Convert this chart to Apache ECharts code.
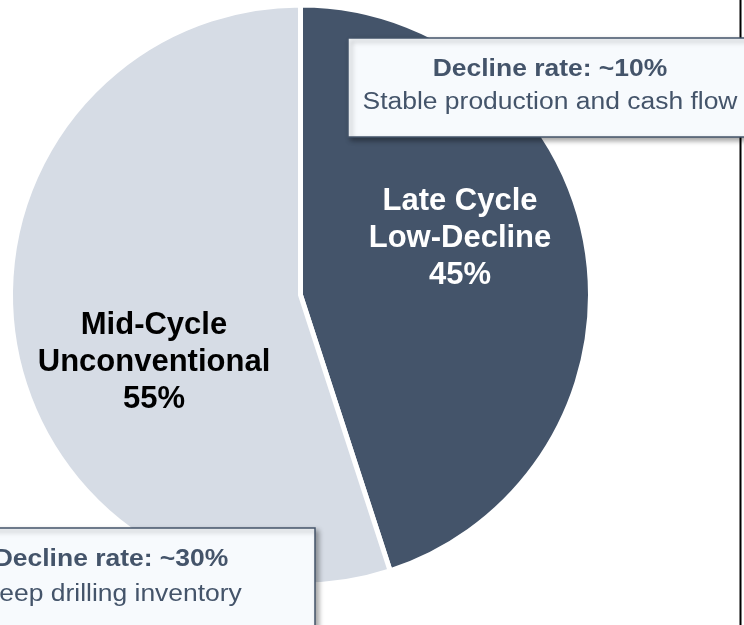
<!DOCTYPE html>
<html>
<head>
<meta charset="utf-8">
<script src="https://cdn.jsdelivr.net/npm/echarts@6/dist/echarts.min.js"></script>
<style>
  html, body { margin: 0; padding: 0; background: #fff; }
  #main { width: 744px; height: 625px; }
</style>
</head>
<body>
<div id="main"></div>
<script>
'use strict';

/* ===== data ===== */
var segments = ['Late Cycle\nLow-Decline', 'Mid-Cycle\nUnconventional'];
var shares = [45, 55];
var sliceColors = ['#44546A', '#D6DCE5'];
var labelColors = ['#ffffff', '#000000'];
var notesTitle = ['Decline rate: ~10%', 'Decline rate: ~30%'];
var notesText = ['Stable production and cash flow', 'Deep drilling inventory'];

// where the slice labels sit (px)
var labelPos = [[460, 238], [154, 362]];

var myChart = echarts.init(document.getElementById('main'));

// callout box: rect + two lines of text
function callout(x, y, w, h, cx, y1, y2, title, text) {
  return {
    type: 'group',
    z: 100,
    children: [
      {
        type: 'rect',
        z: 100,
        shape: { x: x, y: y, width: w, height: h },
        style: {
          fill: '#F7FAFD',
          stroke: '#44546A',
          lineWidth: 1.5,
          shadowBlur: 5,
          shadowOffsetX: 3,
          shadowOffsetY: 3,
          shadowColor: 'rgba(0,0,0,0.35)'
        }
      },
      {
        type: 'text',
        z: 101,
        x: cx, y: y1, scaleX: 1.15,
        style: {
          text: title,
          font: 'bold 23px "Liberation Sans", Arial, sans-serif',
          fill: '#44546A',
          align: 'center',
          verticalAlign: 'middle'
        }
      },
      {
        type: 'text',
        z: 101,
        x: cx, y: y2, scaleX: 1.15,
        style: {
          text: text,
          font: '23px "Liberation Sans", Arial, sans-serif',
          fill: '#44546A',
          align: 'center',
          verticalAlign: 'middle'
        }
      }
    ]
  };
}

var option = {
  animation: false,
  backgroundColor: '#fff',
  graphic: [
    {
      type: 'line',
      z: 1,
      shape: { x1: 740.5, y1: 0, x2: 740.5, y2: 625 },
      style: { stroke: '#000', lineWidth: 2 }
    },
    callout(348, 38, 420, 99, 550, 70, 103, notesTitle[0], notesText[0]),
    callout(-30, 528, 345, 120, 111, 560, 595, notesTitle[1], notesText[1])
  ],
  series: [
    {
      type: 'pie',
      z: 2,
      center: [300.5, 295],
      radius: [0, 290],
      startAngle: 90,
      clockwise: true,
      silent: true,
      itemStyle: {
        borderColor: '#fff',
        borderWidth: 5
      },
      label: {
        show: true,
        position: 'inside',
        formatter: '{b}\n{c}%',
        fontFamily: '"Liberation Sans", Arial, sans-serif',
        fontWeight: 'bold',
        fontSize: 31,
        lineHeight: 37,
        align: 'center'
      },
      labelLine: { show: false },
      labelLayout: function (params) {
        var p = labelPos[params.dataIndex];
        return { x: p[0], y: p[1], align: 'center', verticalAlign: 'middle' };
      },
      data: segments.map(function (name, i) {
        return {
          name: name,
          value: shares[i],
          itemStyle: { color: sliceColors[i] },
          label: { color: labelColors[i] }
        };
      })
    }
  ]
};

myChart.setOption(option);
</script>
</body>
</html>
